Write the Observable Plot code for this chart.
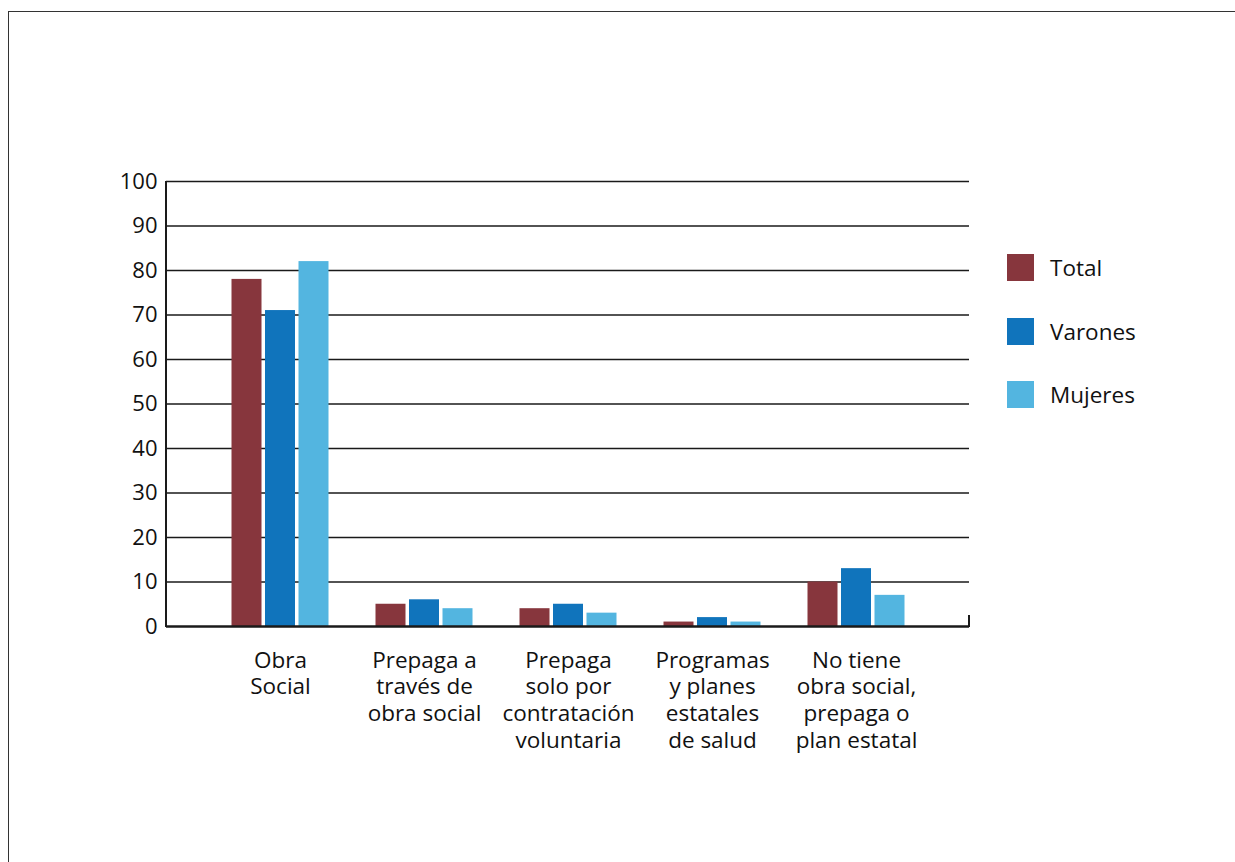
<!DOCTYPE html>
<html>
<head>
<meta charset="utf-8">
<script src="https://cdn.jsdelivr.net/npm/d3@7"></script>
<script src="https://cdn.jsdelivr.net/npm/@observablehq/plot@0.6"></script>
<style>
  html, body { margin: 0; padding: 0; background: #fff; overflow: hidden; width: 1235px; height: 862px; }
  #wrap { position: relative; width: 1235px; height: 862px; font-family: "Open Sans", Lato, sans-serif; }
  #border { position: absolute; left: 8px; top: 11px; width: 1300px; height: 900px; border-top: 1.5px solid #333; border-left: 1.5px solid #333; }
  #chart { position: absolute; left: 0; top: 0; }
  .leg { position: absolute; left: 1007px; display: flex; align-items: center; font-size: 22.5px; color: #111; }
  .leg .sw { width: 27px; height: 27px; margin-right: 16px; }
</style>
</head>
<body>
<div id="wrap">
  <div id="border"></div>
  <div id="chart"></div>
  <div id="legend"></div>
</div>
<script>
const categories = [
  "Obra Social",
  "Prepaga a través de obra social",
  "Prepaga solo por contratación voluntaria",
  "Programas y planes estatales de salud",
  "No tiene obra social, prepaga o plan estatal"
];
const tickLabels = [
  "Obra\nSocial",
  "Prepaga a\ntravés de\nobra social",
  "Prepaga\nsolo por\ncontratación\nvoluntaria",
  "Programas\ny planes\nestatales\nde salud",
  "No tiene\nobra social,\nprepaga o\nplan estatal"
];
const series = ["Total", "Varones", "Mujeres"];
const total   = [78, 5, 4, 1, 10];
const varones = [71, 6, 5, 2, 13];
const mujeres = [82, 4, 3, 1, 7];
const colors = ["#87363D", "#1074BC", "#53B5E0"];
const yTicks = [0, 10, 20, 30, 40, 50, 60, 70, 80, 90, 100];

const values = { Total: total, Varones: varones, Mujeres: mujeres };
const rows = [];
series.forEach(s => categories.forEach((c, i) => rows.push({ series: s, category: c, value: values[s][i] })));
const offsets = { Total: -33.5, Varones: 0, Mujeres: 33.5 };

const chart = Plot.plot({
  width: 1235,
  height: 862,
  marginLeft: 166,
  marginRight: 266,
  marginTop: 181,
  marginBottom: 236,
  style: { fontFamily: "'Open Sans', Lato, sans-serif", color: "#111", background: "transparent" },
  x: { domain: categories, paddingInner: 0.7927, paddingOuter: 0.67, label: null },
  y: { domain: [0, 100], label: null },
  color: { domain: series, range: colors },
  marks: [
    Plot.ruleY(yTicks.filter(d => d > 0), { stroke: "#1a1a1a", strokeWidth: 1.5 }),
    ...series.map(s => Plot.barY(rows.filter(r => r.series === s), {
      x: "category", y: "value", fill: "series", dx: offsets[s]
    })),
    Plot.ruleY([0], { stroke: "#1a1a1a", strokeWidth: 2.5 }),
    Plot.axisY({ ticks: yTicks, tickSize: 0, tickPadding: 9, fontSize: 22, label: null }),
    Plot.axisX({ tickSize: 0, tickPadding: 22, fontSize: 22.5, lineHeight: 1.19, label: null,
      tickFormat: d => tickLabels[categories.indexOf(d)] })
  ]
});

const xs = chart.scale("x");
const ys = chart.scale("y");
const svg = d3.select(chart);
svg.append("line")
  .attr("x1", xs.range[0]).attr("x2", xs.range[0])
  .attr("y1", ys.apply(0) + 1).attr("y2", ys.apply(100))
  .attr("stroke", "#1a1a1a").attr("stroke-width", 2);
svg.append("line")
  .attr("x1", xs.range[1]).attr("x2", xs.range[1])
  .attr("y1", ys.apply(0) + 1).attr("y2", ys.apply(2.5))
  .attr("stroke", "#1a1a1a").attr("stroke-width", 2);

document.getElementById("chart").appendChild(chart);

const legendTops = [252, 315.5, 379];
const legend = document.getElementById("legend");
series.forEach((s, i) => {
  const item = document.createElement("div");
  item.className = "leg";
  item.style.top = legendTops[i] + "px";
  item.innerHTML = `<div class="sw" style="background:${colors[i]}"></div><span>${s}</span>`;
  legend.appendChild(item);
});
</script>
</body>
</html>
